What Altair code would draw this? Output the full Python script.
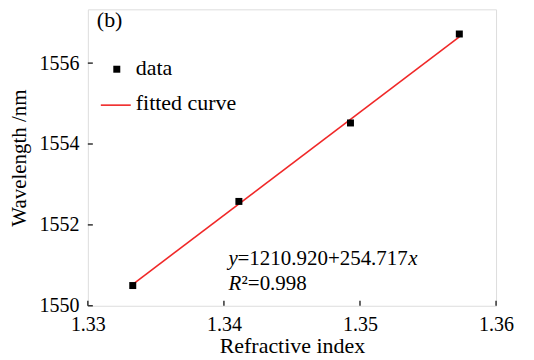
import altair as alt
import pandas as pd

# data
ri = [1.3333, 1.3411, 1.3493, 1.3573]
wl = [1550.50, 1552.58, 1554.52, 1556.72]
fit_x = [1.3333, 1.3573]
fit_y = [1550.53, 1556.65]
x_ticks = [1.33, 1.34, 1.35, 1.36]
y_ticks = [1550, 1552, 1554, 1556]

FONT = "Liberation Serif, Times New Roman, serif"
W, H = 409, 297
XDOM = [1.33, 1.36]
YDOM = [1550, 1557.33]

pts = pd.DataFrame({"x": ri, "y": wl})
fit = pd.DataFrame({"x": fit_x, "y": fit_y})
xt = pd.DataFrame({"v": x_ticks})
yt = pd.DataFrame({"v": y_ticks})

xs = alt.Scale(domain=XDOM, nice=False, zero=False)
ys = alt.Scale(domain=YDOM, nice=False, zero=False)

xax = alt.Axis(values=x_ticks, format=".2f", ticks=False, domain=False, grid=False,
               labelFont=FONT, labelFontSize=20, labelColor="black", labelPadding=9,
               labelFlush=False, title="Refractive index", titleFont=FONT,
               titleFontSize=22, titleFontWeight="normal", titleColor="black",
               titlePadding=1)
yax = alt.Axis(values=y_ticks, format="d", ticks=False, domain=False, grid=False,
               labelFont=FONT, labelFontSize=20, labelColor="black", labelPadding=9,
               labelFlush=False, title="Wavelength /nm", titleFont=FONT,
               titleFontSize=21, titleFontWeight="normal", titleColor="black",
               titlePadding=9)

RED = "#f02828"
line = alt.Chart(fit).mark_line(color=RED, strokeWidth=1.6).encode(
    x=alt.X("x:Q", scale=xs, axis=xax), y=alt.Y("y:Q", scale=ys, axis=yax))
points = alt.Chart(pts).mark_square(color="black", size=49, opacity=1).encode(
    x=alt.X("x:Q", scale=xs), y=alt.Y("y:Q", scale=ys))

xtick = alt.Chart(xt).mark_rule(color="#333", strokeWidth=1.5).encode(
    x=alt.X("v:Q", scale=xs), y=alt.value(H), y2=alt.value(H - 5))
ytick = alt.Chart(yt).mark_rule(color="#333", strokeWidth=1.5).encode(
    y=alt.Y("v:Q", scale=ys), x=alt.value(0), x2=alt.value(5))

def txt(s, x, y, italic=False, size=20):
    return alt.Chart(pd.DataFrame({"t": [s]})).mark_text(
        font=FONT, fontSize=size, align="left", baseline="alphabetic", color="black",
        fontStyle="italic" if italic else "normal").encode(
        text="t:N", x=alt.value(x), y=alt.value(y))

leg_sym = alt.Chart(pd.DataFrame({"t": ["data"]})).mark_square(
    color="black", size=49, opacity=1).encode(x=alt.value(29), y=alt.value(60))
leg_line = alt.Chart(pd.DataFrame({"t": ["fitted curve"]})).mark_rule(
    color=RED, strokeWidth=1.6).encode(x=alt.value(13), x2=alt.value(43), y=alt.value(96))

layers = [line, points, xtick, ytick, leg_sym, leg_line,
          txt("(b)", 9, 18, size=22),
          txt("data", 48, 66, size=22),
          txt("fitted curve", 48, 101, size=22),
          txt("y", 141, 256, italic=True, size=21),
          txt("=1210.920+254.717", 150, 256, size=21),
          txt("x", 321, 256, italic=True, size=21),
          txt("R", 141, 281, italic=True, size=21),
          txt("²=0.998", 154, 281, size=21)]

chart = alt.layer(*layers).properties(
    width=W, height=H,
    autosize=alt.AutoSizeParams(type="none"),
    padding={"left": 80, "top": 1, "right": 30, "bottom": 52},
).configure_view(stroke="#333", strokeWidth=2).configure(background="white")

chart.save("out.html", embed_options={"renderer": "svg", "actions": False})
